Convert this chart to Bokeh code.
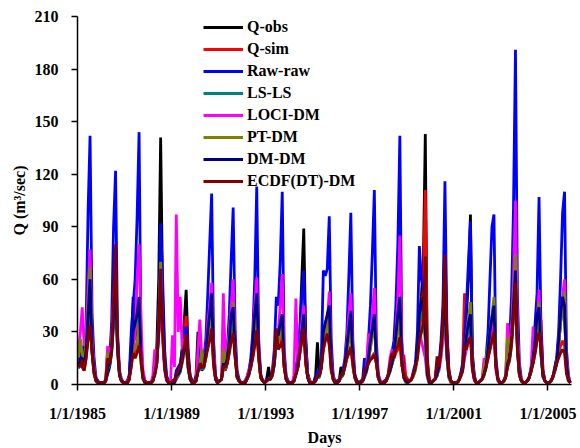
from datetime import datetime, timezone
from bokeh.plotting import figure
from bokeh.models import FixedTicker, CustomJSTickFormatter, Range1d
from bokeh.embed import file_html
from bokeh.resources import INLINE

years = list(range(1985, 2006))
months = list(range(1, 13))

# Monthly discharge (m3/s), one row per year (Jan..Dec)
q_obs = [
    20, 15, 10, 8, 20, 30, 40, 20, 8, 2, 1, 1,
    1, 1, 2, 6, 10, 18, 35, 55, 25, 6, 2, 1,
    1, 2, 5, 20, 50, 30, 25, 45, 15, 4, 2, 1,
    1, 1, 2, 10, 20, 60, 141, 50, 15, 4, 1, 1,
    2, 2, 5, 6, 10, 20, 35, 54, 20, 5, 2, 1,
    5, 30, 15, 8, 10, 15, 25, 40, 45, 15, 4, 1,
    2, 3, 10, 8, 12, 20, 35, 45, 20, 5, 2, 1,
    1, 1, 3, 6, 10, 20, 35, 50, 18, 5, 2, 1,
    3, 10, 3, 6, 12, 25, 22, 30, 35, 10, 3, 1,
    1, 1, 2, 8, 15, 30, 60, 89, 25, 6, 2, 1,
    1, 5, 24, 5, 12, 30, 35, 38, 42, 15, 4, 1,
    1, 2, 10, 6, 12, 20, 30, 40, 15, 5, 2, 1,
    1, 2, 5, 8, 15, 25, 32, 38, 14, 4, 1, 1,
    1, 2, 5, 8, 12, 18, 25, 35, 45, 15, 5, 2,
    3, 2, 3, 6, 10, 20, 40, 50, 70, 143, 15, 3,
    1, 2, 3, 8, 10, 20, 35, 60, 25, 6, 2, 1,
    1, 1, 2, 5, 10, 20, 40, 60, 97, 15, 4, 1,
    1, 2, 3, 6, 10, 20, 30, 38, 42, 12, 3, 1,
    1, 2, 4, 12, 15, 25, 40, 55, 20, 6, 2, 1,
    1, 2, 4, 8, 15, 22, 35, 45, 18, 5, 2, 1,
    1, 2, 4, 8, 12, 22, 35, 45, 40, 10, 3, 1,
]
q_sim = [
    12, 10, 12, 8, 15, 28, 38, 18, 6, 2, 1, 1,
    1, 1, 2, 20, 12, 20, 45, 70, 22, 6, 2, 1,
    1, 1, 3, 12, 20, 18, 20, 28, 12, 3, 1, 1,
    1, 1, 2, 6, 12, 30, 60, 28, 10, 3, 1, 1,
    1, 1, 3, 5, 8, 15, 25, 39, 15, 4, 1, 1,
    2, 8, 10, 10, 10, 15, 22, 28, 30, 10, 3, 1,
    2, 3, 10, 8, 12, 18, 25, 32, 15, 4, 2, 1,
    1, 1, 3, 6, 10, 16, 25, 33, 14, 4, 2, 1,
    2, 3, 3, 5, 12, 25, 20, 25, 30, 10, 3, 1,
    1, 1, 2, 6, 10, 18, 25, 30, 12, 4, 1, 1,
    1, 2, 5, 5, 10, 20, 25, 28, 30, 8, 3, 1,
    1, 2, 5, 6, 10, 15, 18, 22, 10, 4, 1, 1,
    1, 2, 6, 8, 12, 15, 16, 18, 12, 4, 1, 1,
    1, 2, 5, 8, 12, 15, 18, 20, 25, 10, 17, 5,
    3, 2, 3, 6, 10, 18, 30, 40, 55, 111, 12, 3,
    1, 2, 3, 12, 10, 20, 40, 83, 30, 8, 2, 1,
    1, 1, 2, 5, 10, 52, 30, 35, 32, 10, 3, 1,
    1, 2, 3, 6, 10, 15, 20, 25, 30, 10, 3, 1,
    1, 2, 4, 10, 15, 22, 38, 52, 18, 5, 2, 1,
    1, 2, 4, 8, 12, 18, 25, 30, 37, 8, 2, 1,
    1, 2, 4, 8, 15, 18, 22, 25, 22, 8, 2, 1,
]
raw_raw = [
    18, 12, 22, 15, 35, 100, 142, 40, 15, 4, 2, 1,
    1, 1, 2, 8, 15, 35, 90, 122, 30, 8, 3, 1,
    1, 2, 5, 30, 45, 60, 95, 144, 20, 6, 2, 1,
    1, 1, 3, 8, 15, 40, 92, 60, 20, 5, 2, 1,
    2, 2, 8, 10, 12, 20, 28, 33, 15, 5, 2, 1,
    3, 15, 20, 12, 15, 25, 50, 80, 109, 25, 5, 2,
    2, 3, 15, 10, 20, 40, 71, 101, 30, 8, 3, 1,
    1, 2, 4, 8, 15, 30, 60, 113, 25, 6, 2, 1,
    3, 3, 3, 8, 20, 50, 45, 70, 110, 20, 5, 2,
    1, 1, 2, 10, 15, 30, 50, 65, 25, 6, 2, 1,
    1, 3, 8, 5, 15, 65, 62, 66, 96, 25, 5, 2,
    2, 3, 4, 8, 15, 30, 62, 98, 25, 6, 2, 1,
    2, 3, 15, 10, 25, 45, 75, 111, 25, 6, 2, 1,
    2, 3, 5, 10, 18, 25, 45, 80, 142, 25, 6, 2,
    2, 2, 3, 8, 12, 30, 79, 60, 55, 40, 8, 2,
    1, 2, 3, 5, 12, 25, 45, 116, 30, 8, 2, 1,
    1, 1, 2, 6, 12, 25, 45, 70, 93, 18, 5, 1,
    1, 2, 3, 6, 15, 30, 60, 90, 97, 15, 4, 1,
    1, 2, 5, 15, 25, 50, 100, 191, 50, 12, 3, 1,
    1, 2, 4, 10, 20, 35, 52, 107, 30, 8, 2, 1,
    1, 2, 4, 10, 15, 30, 60, 98, 110, 20, 5, 1,
]
ls_ls = [
    9, 13, 13, 9, 18, 36, 54, 18, 7, 2, 1, 1,
    1, 1, 2, 9, 11, 18, 36, 50, 18, 5, 2, 1,
    1, 1, 3, 13, 27, 31, 36, 45, 13, 4, 1, 1,
    1, 1, 2, 5, 11, 27, 50, 31, 9, 3, 1, 1,
    1, 1, 4, 5, 7, 13, 18, 22, 9, 3, 1, 1,
    2, 7, 9, 9, 9, 16, 27, 36, 47, 13, 3, 1,
    2, 3, 11, 9, 13, 22, 36, 40, 16, 4, 2, 1,
    1, 1, 3, 5, 11, 22, 36, 47, 16, 4, 2, 1,
    2, 3, 3, 5, 11, 27, 25, 31, 36, 11, 3, 1,
    1, 1, 2, 5, 9, 18, 27, 36, 13, 4, 1, 1,
    1, 2, 4, 4, 9, 27, 31, 36, 40, 11, 3, 1,
    1, 2, 4, 5, 11, 20, 29, 38, 13, 4, 2, 1,
    1, 2, 4, 7, 13, 22, 29, 36, 13, 4, 1, 1,
    1, 2, 4, 7, 11, 16, 25, 36, 45, 13, 4, 2,
    1, 2, 3, 5, 9, 18, 36, 40, 45, 27, 5, 1,
    1, 2, 3, 5, 9, 18, 31, 40, 16, 4, 2, 1,
    1, 1, 2, 4, 7, 16, 25, 31, 36, 9, 3, 1,
    1, 2, 3, 5, 9, 18, 27, 34, 40, 11, 3, 1,
    1, 2, 4, 11, 13, 22, 40, 58, 20, 5, 2, 1,
    1, 2, 4, 7, 13, 22, 36, 40, 16, 4, 2, 1,
    1, 2, 4, 7, 11, 22, 36, 45, 40, 11, 3, 1,
]
loci_dm = [
    20, 30, 44, 22, 30, 55, 77, 25, 10, 3, 1, 1,
    1, 1, 3, 22, 15, 25, 50, 63, 20, 6, 2, 1,
    1, 2, 4, 10, 20, 30, 60, 80, 35, 8, 2, 1,
    1, 1, 5, 20, 12, 30, 45, 25, 8, 2, 1, 1,
    28, 10, 97, 30, 50, 20, 25, 27, 10, 3, 1, 1,
    3, 20, 37, 15, 12, 20, 35, 45, 58, 20, 4, 1,
    2, 3, 52, 15, 20, 30, 45, 60, 20, 5, 2, 1,
    1, 2, 4, 8, 12, 25, 45, 61, 20, 5, 2, 1,
    2, 3, 3, 6, 15, 30, 30, 45, 63, 15, 4, 1,
    1, 1, 5, 49, 12, 20, 35, 45, 18, 5, 2, 1,
    1, 2, 5, 5, 10, 25, 30, 35, 53, 15, 4, 1,
    1, 2, 5, 6, 12, 25, 40, 52, 18, 5, 2, 1,
    1, 2, 5, 8, 29, 25, 40, 55, 18, 5, 2, 1,
    1, 2, 5, 15, 20, 18, 30, 50, 85, 20, 5, 2,
    1, 2, 3, 6, 10, 15, 32, 25, 20, 15, 4, 1,
    1, 2, 3, 6, 8, 15, 25, 35, 15, 4, 1, 1,
    1, 1, 2, 5, 8, 15, 20, 25, 28, 8, 2, 1,
    1, 2, 3, 15, 10, 15, 22, 30, 35, 8, 2, 1,
    1, 2, 5, 35, 20, 30, 60, 105, 30, 8, 2, 1,
    1, 2, 4, 10, 33, 25, 35, 54, 20, 5, 2, 1,
    1, 2, 4, 8, 12, 25, 40, 50, 60, 15, 4, 1,
]
pt_dm = [
    15, 26, 18, 12, 25, 45, 67, 22, 8, 3, 1, 1,
    1, 1, 2, 18, 14, 22, 45, 57, 22, 6, 2, 1,
    1, 1, 3, 12, 20, 20, 25, 35, 12, 3, 1, 1,
    1, 1, 2, 6, 12, 35, 70, 30, 10, 3, 1, 1,
    1, 1, 5, 6, 8, 12, 18, 22, 9, 3, 1, 1,
    2, 8, 12, 20, 10, 15, 25, 35, 40, 12, 3, 1,
    2, 3, 20, 12, 18, 28, 35, 47, 18, 5, 2, 1,
    1, 1, 3, 6, 10, 18, 30, 40, 15, 4, 2, 1,
    2, 3, 3, 5, 12, 25, 22, 30, 35, 10, 3, 1,
    1, 1, 2, 6, 10, 18, 25, 35, 12, 4, 1, 1,
    1, 2, 5, 5, 10, 22, 28, 32, 38, 10, 3, 1,
    1, 2, 5, 6, 10, 18, 25, 32, 12, 4, 1, 1,
    1, 2, 5, 8, 15, 20, 28, 35, 12, 4, 1, 1,
    1, 2, 5, 8, 12, 16, 22, 30, 38, 12, 4, 1,
    1, 2, 3, 5, 8, 15, 25, 30, 35, 25, 5, 1,
    1, 2, 3, 6, 10, 18, 30, 40, 15, 4, 1, 1,
    1, 1, 2, 5, 8, 18, 28, 38, 47, 12, 3, 1,
    1, 2, 3, 10, 15, 22, 30, 40, 50, 12, 3, 1,
    1, 2, 5, 27, 18, 28, 50, 74, 25, 6, 2, 1,
    1, 2, 4, 8, 15, 22, 32, 47, 18, 5, 2, 1,
    1, 2, 4, 8, 12, 22, 35, 45, 53, 12, 3, 1,
]
dm_dm = [
    10, 15, 15, 10, 20, 40, 60, 20, 8, 3, 1, 1,
    1, 1, 2, 10, 12, 20, 40, 55, 20, 5, 2, 1,
    1, 1, 3, 15, 30, 35, 40, 50, 15, 4, 1, 1,
    1, 1, 2, 6, 12, 30, 55, 35, 10, 3, 1, 1,
    1, 1, 5, 6, 8, 14, 20, 25, 10, 3, 1, 1,
    2, 8, 10, 10, 10, 18, 30, 40, 52, 15, 3, 1,
    2, 3, 12, 10, 15, 25, 40, 44, 18, 5, 2, 1,
    1, 1, 3, 6, 12, 25, 40, 52, 18, 5, 2, 1,
    2, 3, 3, 6, 12, 30, 28, 35, 40, 12, 3, 1,
    1, 1, 2, 6, 10, 20, 30, 40, 15, 4, 1, 1,
    1, 2, 5, 5, 10, 30, 35, 40, 45, 12, 3, 1,
    1, 2, 5, 6, 12, 22, 32, 42, 15, 5, 2, 1,
    1, 2, 5, 8, 15, 25, 32, 40, 15, 4, 1, 1,
    1, 2, 5, 8, 12, 18, 28, 40, 50, 15, 4, 2,
    1, 2, 3, 6, 10, 20, 40, 45, 50, 30, 6, 1,
    1, 2, 3, 6, 10, 20, 35, 45, 18, 5, 2, 1,
    1, 1, 2, 5, 8, 18, 28, 35, 40, 10, 3, 1,
    1, 2, 3, 6, 10, 20, 30, 38, 45, 12, 3, 1,
    1, 2, 4, 12, 15, 25, 45, 65, 22, 6, 2, 1,
    1, 2, 4, 8, 15, 25, 40, 44, 18, 5, 2, 1,
    1, 2, 4, 8, 12, 25, 40, 50, 45, 12, 3, 1,
]
ecdf_dt_dm = [
    12, 10, 14, 8, 15, 25, 34, 18, 6, 2, 1, 1,
    1, 1, 2, 15, 12, 20, 50, 80, 25, 6, 2, 1,
    1, 1, 3, 10, 18, 15, 18, 22, 15, 4, 1, 1,
    1, 1, 2, 6, 12, 35, 66, 30, 10, 3, 1, 1,
    2, 2, 6, 8, 10, 15, 22, 29, 12, 4, 1, 1,
    2, 8, 12, 10, 10, 15, 20, 25, 32, 12, 3, 1,
    2, 3, 10, 10, 12, 18, 25, 29, 15, 4, 2, 1,
    1, 1, 3, 6, 10, 15, 22, 31, 15, 4, 2, 1,
    2, 3, 3, 6, 15, 32, 20, 22, 25, 10, 3, 1,
    1, 1, 2, 6, 10, 18, 25, 32, 12, 4, 1, 1,
    1, 2, 5, 5, 10, 20, 25, 29, 22, 8, 3, 1,
    1, 2, 5, 6, 10, 15, 18, 21, 12, 4, 1, 1,
    1, 2, 8, 10, 12, 14, 15, 17, 12, 4, 1, 1,
    1, 2, 5, 12, 18, 15, 20, 22, 27, 12, 5, 3,
    2, 2, 3, 6, 10, 15, 25, 30, 35, 73, 10, 2,
    1, 2, 3, 16, 10, 20, 35, 74, 28, 8, 2, 1,
    1, 1, 2, 5, 8, 22, 20, 25, 27, 10, 3, 1,
    1, 2, 3, 6, 10, 15, 20, 25, 30, 10, 3, 1,
    1, 2, 4, 10, 15, 25, 40, 58, 20, 6, 2, 1,
    1, 2, 4, 8, 12, 18, 25, 30, 22, 6, 2, 1,
    1, 2, 4, 8, 12, 15, 18, 20, 18, 6, 2, 1,
]

series_names = ["Q-obs", "Q-sim", "Raw-raw", "LS-LS", "LOCI-DM", "PT-DM", "DM-DM", "ECDF(DT)-DM"]
series_values = [q_obs, q_sim, raw_raw, ls_ls, loci_dm, pt_dm, dm_dm, ecdf_dt_dm]
series_colors = ["#000000", "#ff0000", "#0000ff", "#008080", "#ff00ff", "#808000", "#000080", "#800000"]

y_ticks = [0, 30, 60, 90, 120, 150, 180, 210]
x_tick_years = [1985, 1989, 1993, 1997, 2001, 2005]

dates = [datetime(y, m, 15) for y in years for m in months]

def ms(y):
    return datetime(y, 1, 1, tzinfo=timezone.utc).timestamp() * 1000.0

FONT = "Liberation Serif"

p = figure(width=580, height=448, x_axis_type="datetime",
           output_backend="svg", toolbar_location=None,
           min_border_left=77, min_border_right=9, min_border_top=16, min_border_bottom=59)
p.x_range = Range1d(ms(1985), ms(2006))
p.y_range = Range1d(0, 210)

for name, vals, col in zip(series_names, series_values, series_colors):
    p.line(dates, vals, line_color=col, line_width=2.8, legend_label=name)

p.xgrid.visible = False
p.ygrid.visible = False
p.outline_line_color = None
p.background_fill_color = "white"
p.border_fill_color = "white"

p.yaxis.ticker = FixedTicker(ticks=y_ticks)
p.xaxis.ticker = FixedTicker(ticks=[ms(y) for y in x_tick_years])
p.xaxis.formatter = CustomJSTickFormatter(code="""
const d = new Date(tick);
return (d.getUTCMonth() + 1) + "/" + d.getUTCDate() + "/" + d.getUTCFullYear();
""")

for ax in (p.xaxis[0], p.yaxis[0]):
    ax.axis_line_width = 1.5
    ax.axis_line_color = "black"
    ax.major_tick_line_width = 1.5
    ax.major_tick_line_color = "black"
    ax.major_tick_in = 0
    ax.major_tick_out = 6
    ax.minor_tick_line_color = None
    ax.major_label_text_font = FONT
    ax.major_label_text_font_size = "16px"
    ax.major_label_text_font_style = "bold"
    ax.major_label_text_color = "black"
    ax.axis_label_text_font = FONT
    ax.axis_label_text_font_size = "16px"
    ax.axis_label_text_font_style = "bold"
    ax.axis_label_text_color = "black"

p.yaxis.axis_label = "Q (m³/sec)"
p.xaxis.axis_label = "Days"
p.yaxis.major_label_standoff = 13
p.xaxis.major_label_standoff = 14
p.yaxis.axis_label_standoff = 4
p.xaxis.axis_label_standoff = 4

lg = p.legend[0]
lg.location = (126, 193)
lg.padding = 0
lg.margin = 0
lg.spacing = 2
lg.glyph_width = 40
lg.glyph_height = 20
lg.label_height = 20
lg.label_standoff = 4
lg.label_text_font = FONT
lg.label_text_font_size = "16px"
lg.label_text_font_style = "bold"
lg.label_text_color = "black"
lg.border_line_color = None
lg.background_fill_alpha = 0

open("out.html", "w").write(file_html(p, INLINE))
